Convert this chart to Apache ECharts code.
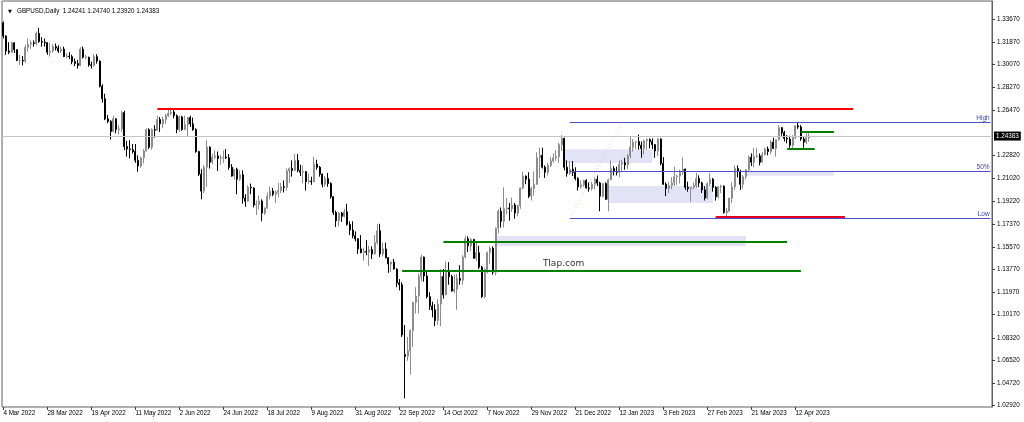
<!DOCTYPE html>
<html>
<head>
<meta charset="utf-8">
<script src="https://cdn.jsdelivr.net/npm/echarts@6/dist/echarts.min.js"></script>
<style>
html,body{margin:0;padding:0;background:#fff;}
#chart{width:1024px;height:422px;}
</style>
</head>
<body>
<div id="chart"></div>
<script>
// ---- tick labels (one every 16 daily bars) ----
const tickLabels = ["4 Mar 2022","28 Mar 2022","19 Apr 2022","11 May 2022","2 Jun 2022","24 Jun 2022","18 Jul 2022","9 Aug 2022","31 Aug 2022","22 Sep 2022","14 Oct 2022","7 Nov 2022","29 Nov 2022","21 Dec 2022","12 Jan 2023","3 Feb 2023","27 Feb 2023","21 Mar 2023","12 Apr 2023"];
const priceTicksA = [1.02920,1.06520,1.10170,1.13770,1.17370,1.21020,1.26470,1.30070,1.33670];
const priceTicksB = [1.04720,1.11970,1.15570,1.19220,1.22820,1.31870];
const priceTicksC = [1.0832000013,1.2827000013];
const slotCount = 360;

// ---- GBPUSD daily OHLC, 4 Mar 2022 .. 19 Apr 2023 ----
const opens = [
1.3340,1.3235,1.3115,1.3105,1.3180,1.3125,1.3040,1.3040,1.3035,1.3145,1.3170,1.3180,1.3175,1.3255,1.3190,1.3185,
1.3180,1.3105,1.3115,1.3150,1.3140,1.3115,1.3130,1.3070,1.3075,1.3070,1.3030,1.3015,1.3000,1.3130,1.3065,1.3065,
1.3005,1.3000,1.3070,1.3035,1.2835,1.2735,1.2575,1.2555,1.2475,1.2575,1.2490,1.2495,1.2625,1.2355,1.2335,1.2330,
1.2315,1.2245,1.2200,1.2265,1.2320,1.2490,1.2350,1.2490,1.2485,1.2570,1.2535,1.2570,1.2600,1.2620,1.2630,1.2600,
1.2490,1.2590,1.2490,1.2530,1.2585,1.2535,1.2490,1.2315,1.2135,1.2000,1.2190,1.2350,1.2230,1.2270,1.2280,1.2260,
1.2265,1.2270,1.2265,1.2190,1.2120,1.2175,1.2095,1.2130,1.1945,1.1920,1.2030,1.2025,1.1890,1.1895,1.1920,1.1825,
1.1865,1.1960,1.2000,1.1975,1.1990,1.2005,1.2035,1.2030,1.2160,1.2180,1.2165,1.2245,1.2165,1.2150,1.2155,1.2075,
1.2080,1.2075,1.2215,1.2190,1.2135,1.2055,1.2100,1.2060,1.1955,1.1830,1.1765,1.1825,1.1800,1.1835,1.1735,1.1690,
1.1645,1.1620,1.1540,1.1510,1.1520,1.1515,1.1535,1.1500,1.1590,1.1685,1.1500,1.1540,1.1470,1.1420,1.1435,1.1380,
1.1270,1.1255,1.0700,1.0685,1.0730,1.0890,1.1115,1.1165,1.1320,1.1475,1.1325,1.1160,1.1085,1.1055,1.0970,1.1100,
1.1320,1.1175,1.1355,1.1320,1.1205,1.1220,1.1305,1.1290,1.1475,1.1620,1.1565,1.1615,1.1465,1.1510,1.1395,1.1160,
1.1375,1.1510,1.1545,1.1355,1.1705,1.1840,1.1760,1.1860,1.1865,1.1860,1.1890,1.1825,1.1885,1.2025,1.2120,1.2095,
1.1960,1.2020,1.2055,1.2265,1.2285,1.2190,1.2150,1.2205,1.2240,1.2265,1.2275,1.2370,1.2420,1.2190,1.2140,1.2175,
1.2150,1.2100,1.2035,1.2050,1.2085,1.2025,1.2020,1.2055,1.2095,1.2065,1.1960,1.2060,1.1935,1.2090,1.2180,1.2155,
1.2150,1.2215,1.2225,1.2210,1.2280,1.2350,1.2390,1.2395,1.2365,1.2340,1.2400,1.2410,1.2395,1.2370,1.2320,1.2415,
1.2220,1.2055,1.2020,1.2045,1.2065,1.2115,1.2120,1.2150,1.2175,1.2030,1.2020,1.2030,1.2045,1.2100,1.2065,1.2010,
1.1945,1.2060,1.2095,1.2030,1.1955,1.2035,1.2040,1.1830,1.1840,1.1945,1.2035,1.2180,1.2155,1.2055,1.2115,1.2170,
1.2270,1.2230,1.2275,1.2280,1.2230,1.2290,1.2335,1.2315,1.2390,1.2340,1.2410,1.2505,1.2465,1.2420,1.2415,1.2365,
1.2425,1.2520,1.2510,1.2415,1.2390,1.24241
];
const highs = [
1.3350,1.3240,1.3185,1.3190,1.3185,1.3130,1.3085,1.3075,1.3165,1.3215,1.3200,1.3200,1.3270,1.3300,1.3225,1.3215,
1.3185,1.3180,1.3170,1.3175,1.3160,1.3150,1.3150,1.3100,1.3105,1.3085,1.3055,1.3045,1.3145,1.3150,1.3085,1.3070,
1.3030,1.3090,1.3090,1.3040,1.2850,1.2775,1.2605,1.2565,1.2600,1.2580,1.2525,1.2640,1.2640,1.2400,1.2405,1.2375,
1.2375,1.2285,1.2275,1.2335,1.2500,1.2500,1.2500,1.2525,1.2600,1.2590,1.2590,1.2615,1.2665,1.2665,1.2655,1.2610,
1.2600,1.2600,1.2600,1.2590,1.2600,1.2585,1.2500,1.2320,1.2175,1.2205,1.2405,1.2355,1.2295,1.2325,1.2315,1.2290,
1.2325,1.2335,1.2295,1.2215,1.2175,1.2185,1.2165,1.2165,1.1975,1.2045,1.2060,1.2030,1.1925,1.1965,1.1935,1.1870,
1.1990,1.2035,1.2025,1.2005,1.2065,1.2065,1.2085,1.2180,1.2190,1.2245,1.2295,1.2295,1.2210,1.2205,1.2160,1.2140,
1.2115,1.2275,1.2250,1.2200,1.2140,1.2120,1.2145,1.2070,1.1960,1.1845,1.1835,1.1835,1.1860,1.1900,1.1760,1.1760,
1.1680,1.1625,1.1650,1.1550,1.1610,1.1565,1.1560,1.1650,1.1740,1.1740,1.1590,1.1590,1.1475,1.1440,1.1460,1.1385,
1.1300,1.1275,1.0935,1.0840,1.0900,1.1120,1.1235,1.1345,1.1495,1.1480,1.1365,1.1195,1.1120,1.1100,1.1140,1.1380,
1.1380,1.1440,1.1435,1.1335,1.1335,1.1340,1.1410,1.1490,1.1645,1.1640,1.1630,1.1620,1.1595,1.1565,1.1405,1.1385,
1.1520,1.1560,1.1560,1.1710,1.1855,1.1870,1.2030,1.1945,1.1905,1.1950,1.1905,1.1890,1.2030,1.2155,1.2125,1.2150,
1.2035,1.2155,1.2310,1.2345,1.2345,1.2205,1.2225,1.2270,1.2300,1.2325,1.2385,1.2445,1.2425,1.2245,1.2240,1.2240,
1.2190,1.2110,1.2085,1.2090,1.2095,1.2070,1.2075,1.2110,1.2125,1.2075,1.2065,1.2070,1.2100,1.2245,1.2200,1.2195,
1.2245,1.2250,1.2265,1.2295,1.2435,1.2415,1.2400,1.2450,1.2395,1.2410,1.2420,1.2420,1.2420,1.2375,1.2420,1.2420,
1.2270,1.2070,1.2075,1.2110,1.2195,1.2130,1.2170,1.2270,1.2180,1.2075,1.2035,1.2070,1.2145,1.2125,1.2075,1.2040,
1.2070,1.2145,1.2105,1.2040,1.2040,1.2050,1.2045,1.1865,1.1945,1.2070,1.2205,1.2205,1.2170,1.2130,1.2175,1.2285,
1.2300,1.2345,1.2345,1.2300,1.2310,1.2345,1.2355,1.2405,1.2425,1.2410,1.2525,1.2510,1.2480,1.2445,1.2440,1.2445,
1.2525,1.2545,1.2525,1.2430,1.2475,1.24740
];
const lows = [
1.3215,1.3085,1.3090,1.3100,1.3100,1.3035,1.3005,1.3000,1.3020,1.3110,1.3130,1.3150,1.3160,1.3180,1.3150,1.3150,
1.3085,1.3070,1.3100,1.3120,1.3100,1.3100,1.3070,1.3055,1.3050,1.3010,1.2995,1.2975,1.2995,1.3055,1.3050,1.2990,
1.2975,1.2990,1.3015,1.2825,1.2705,1.2565,1.2540,1.2410,1.2470,1.2460,1.2450,1.2470,1.2325,1.2275,1.2260,1.2300,
1.2225,1.2155,1.2185,1.2220,1.2315,1.2335,1.2330,1.2425,1.2485,1.2470,1.2500,1.2535,1.2590,1.2605,1.2580,1.2460,
1.2470,1.2480,1.2485,1.2430,1.2510,1.2480,1.2305,1.2120,1.1935,1.1985,1.2035,1.2180,1.2215,1.2255,1.2160,1.2210,
1.2225,1.2255,1.2170,1.2115,1.2090,1.1975,1.2080,1.1900,1.1875,1.1915,1.1975,1.1870,1.1810,1.1855,1.1760,1.1810,
1.1860,1.1935,1.1960,1.1905,1.1950,1.1985,1.1990,1.2005,1.2065,1.2115,1.2160,1.2150,1.2120,1.2065,1.2005,1.2055,
1.2050,1.2070,1.2170,1.2115,1.2030,1.2035,1.2035,1.1940,1.1810,1.1715,1.1720,1.1755,1.1790,1.1725,1.1650,1.1625,
1.1600,1.1500,1.1505,1.1445,1.1490,1.1405,1.1460,1.1495,1.1575,1.1475,1.1480,1.1465,1.1350,1.1355,1.1375,1.1235,
1.1210,1.0840,1.0350,1.0650,1.0540,1.0760,1.1025,1.1025,1.1280,1.1280,1.1145,1.1055,1.0995,1.0925,1.0935,1.0925,
1.1145,1.1170,1.1255,1.1200,1.1190,1.1055,1.1255,1.1255,1.1465,1.1515,1.1525,1.1465,1.1445,1.1380,1.1150,1.1145,
1.1345,1.1420,1.1335,1.1330,1.1665,1.1710,1.1710,1.1815,1.1765,1.1835,1.1780,1.1800,1.1860,1.2015,1.2055,1.1945,
1.1925,1.1965,1.2050,1.2105,1.2180,1.2105,1.2125,1.2190,1.2225,1.2240,1.2225,1.2320,1.2165,1.2115,1.2130,1.2120,
1.2085,1.2005,1.2020,1.2035,1.2020,1.1995,1.2005,1.2015,1.2040,1.1840,1.1950,1.1930,1.1840,1.2090,1.2125,1.2125,
1.2110,1.2150,1.2170,1.2175,1.2260,1.2315,1.2335,1.2330,1.2265,1.2290,1.2330,1.2340,1.2335,1.2265,1.2280,1.2205,
1.2050,1.1960,1.1985,1.2015,1.2040,1.2050,1.2060,1.2130,1.2010,1.1995,1.1915,1.2015,1.2025,1.2035,1.1985,1.1925,
1.1935,1.2040,1.1995,1.1925,1.1940,1.1985,1.1820,1.1800,1.1835,1.1905,1.2010,1.2110,1.2010,1.2020,1.2095,1.2155,
1.2200,1.2190,1.2265,1.2205,1.2230,1.2285,1.2285,1.2295,1.2335,1.2275,1.2400,1.2440,1.2395,1.2380,1.2345,1.2345,
1.2415,1.2495,1.2400,1.2345,1.2375,1.23920
];
const closes = [
1.3235,1.3115,1.3105,1.3180,1.3125,1.3040,1.3040,1.3035,1.3145,1.3170,1.3180,1.3175,1.3255,1.3190,1.3185,1.3180,
1.3105,1.3115,1.3150,1.3140,1.3115,1.3130,1.3070,1.3075,1.3070,1.3030,1.3015,1.3000,1.3130,1.3065,1.3070,1.3005,
1.3000,1.3070,1.3035,1.2835,1.2735,1.2575,1.2555,1.2475,1.2575,1.2490,1.2495,1.2625,1.2355,1.2335,1.2330,1.2315,
1.2245,1.2200,1.2265,1.2320,1.2490,1.2350,1.2490,1.2485,1.2570,1.2535,1.2570,1.2600,1.2620,1.2630,1.2600,1.2490,
1.2590,1.2490,1.2530,1.2585,1.2535,1.2490,1.2315,1.2135,1.2000,1.2190,1.2350,1.2230,1.2270,1.2280,1.2260,1.2265,
1.2270,1.2265,1.2190,1.2120,1.2175,1.2095,1.2130,1.1945,1.1920,1.2030,1.2025,1.1890,1.1895,1.1920,1.1825,1.1865,
1.1960,1.2000,1.1975,1.1990,1.2005,1.2035,1.2030,1.2160,1.2180,1.2165,1.2245,1.2165,1.2150,1.2155,1.2075,1.2080,
1.2075,1.2215,1.2190,1.2135,1.2055,1.2100,1.2060,1.1955,1.1830,1.1765,1.1825,1.1800,1.1835,1.1735,1.1690,1.1645,
1.1620,1.1540,1.1510,1.1520,1.1515,1.1535,1.1500,1.1590,1.1685,1.1500,1.1540,1.1470,1.1420,1.1435,1.1380,1.1270,
1.1255,1.0855,1.0685,1.0730,1.0890,1.1115,1.1165,1.1320,1.1475,1.1325,1.1160,1.1085,1.1055,1.0970,1.1100,1.1320,
1.1175,1.1355,1.1320,1.1205,1.1220,1.1305,1.1290,1.1475,1.1620,1.1565,1.1615,1.1465,1.1510,1.1395,1.1160,1.1375,
1.1510,1.1545,1.1355,1.1705,1.1840,1.1760,1.1860,1.1865,1.1860,1.1890,1.1825,1.1885,1.2025,1.2120,1.2095,1.1960,
1.2020,1.2055,1.2265,1.2285,1.2190,1.2150,1.2205,1.2240,1.2265,1.2275,1.2370,1.2420,1.2190,1.2140,1.2175,1.2150,
1.2100,1.2035,1.2050,1.2085,1.2025,1.2020,1.2055,1.2095,1.2065,1.1960,1.2060,1.1935,1.2090,1.2180,1.2155,1.2150,
1.2215,1.2225,1.2210,1.2280,1.2350,1.2390,1.2395,1.2365,1.2340,1.2400,1.2410,1.2395,1.2370,1.2320,1.2415,1.2220,
1.2055,1.2020,1.2045,1.2065,1.2115,1.2120,1.2150,1.2175,1.2030,1.2020,1.2030,1.2045,1.2100,1.2065,1.2010,1.1945,
1.2060,1.2095,1.2030,1.1955,1.2035,1.2040,1.1830,1.1840,1.1945,1.2035,1.2180,1.2155,1.2055,1.2115,1.2170,1.2270,
1.2230,1.2275,1.2280,1.2230,1.2290,1.2335,1.2315,1.2390,1.2340,1.2410,1.2505,1.2465,1.2420,1.2415,1.2365,1.2425,
1.2520,1.2510,1.2415,1.2390,1.2425,1.24383
];

// ---- drawn objects (price levels, bar index ranges) ----
const resistanceRed = {from: 56, to: 309, price: 1.2659};
const lowRed = {from: 259, to: 306, price: 1.1797};
const fibLevels = [{name: 'High', price: 1.2546}, {name: '50%', price: 1.2156}, {name: 'Low', price: 1.1782}];
const fibFrom = 206, fibTo = 359;
const fibDiagonal = [[206, 1.1782], [225, 1.2546]];
const greenLevels = [
  {from: 160, to: 285, price: 1.1597},
  {from: 145, to: 290, price: 1.1370},
  {from: 290, to: 302, price: 1.2476},
  {from: 285, to: 295, price: 1.2340}
];
const zones = [
  {from: 204, to: 236, top: 1.2334, bottom: 1.2223},
  {from: 220, to: 258, top: 1.2040, bottom: 1.1905},
  {from: 270, to: 302, top: 1.2160, bottom: 1.2122},
  {from: 179, to: 270, top: 1.1643, bottom: 1.1564}
];
const bidPrice = 1.24383;
const watermark = {idx: 196, price: 1.1420, text: 'Tlap.com'};

const categories = Array.from({length: slotCount}, (_, i) => String(i));
const candles = opens.map((o, i) => [o, closes[i], lows[i], highs[i]]);

const FONT = 'Liberation Sans';
const Y_MIN = 1.0282, Y_MAX = 1.3513;
const chart = echarts.init(document.getElementById('chart'), null, {renderer: 'canvas'});

const markLineData = [];
markLineData.push([{coord: [resistanceRed.from, resistanceRed.price], lineStyle: {color: '#ff0000', width: 2, type: 'solid'}},
                   {coord: [resistanceRed.to, resistanceRed.price]}]);
fibLevels.forEach(f => {
  markLineData.push([{coord: [fibFrom, f.price], lineStyle: {color: '#5050c0', width: 1, type: 'solid'},
                      label: {show: true, position: 'insideEndTop', formatter: f.name, color: '#3c3cb0',
                              fontSize: 6.5, fontFamily: FONT, distance: [1, 1]}},
                     {coord: [fibTo, f.price]}]);
});
markLineData.push([{coord: [lowRed.from, lowRed.price], lineStyle: {color: '#e00020', width: 2, type: 'solid'}},
                   {coord: [lowRed.to, lowRed.price]}]);
greenLevels.forEach(g => {
  markLineData.push([{coord: [g.from, g.price], lineStyle: {color: '#008000', width: 2, type: 'solid'}},
                     {coord: [g.to, g.price]}]);
});
markLineData.push([{coord: fibDiagonal[0], lineStyle: {color: '#ffb4b4', width: 1, type: [1, 3]}},
                   {coord: fibDiagonal[1]}]);

function priceAxis(ticks, showLine) {
  return {
    type: 'value',
    position: 'right',
    min: Y_MIN,
    max: Y_MAX,
    axisLine: {show: showLine, lineStyle: {color: '#606060'}},
    axisTick: {show: true, length: 3, customValues: ticks, lineStyle: {color: '#404040'}},
    axisLabel: {show: true, customValues: ticks, formatter: (v) => v.toFixed(4) + '0', hideOverlap: false,
                showMinLabel: true, showMaxLabel: true,
                margin: 5, fontSize: 6.3, color: '#000', fontFamily: FONT},
    splitLine: {show: false}
  };
}

const option = {
  animation: false,
  backgroundColor: '#ffffff',
  title: [
    {text: '▼', left: 3, top: 4, textStyle: {fontSize: 5, color: '#000', fontWeight: 'normal', fontFamily: 'DejaVu Sans'}},
    {text: 'GBPUSD,Daily  1.24241 1.24740 1.23920 1.24383', left: 12, top: 3,
     textStyle: {fontSize: 6.3, color: '#000', fontWeight: 'normal', fontFamily: FONT}}
  ],
  grid: {left: 2, right: 32, top: 1, bottom: 15, show: true, borderColor: '#606060', borderWidth: 1, backgroundColor: 'transparent'},
  xAxis: {
    type: 'category',
    data: categories,
    boundaryGap: true,
    axisLine: {show: false},
    axisTick: {show: true, alignWithLabel: true, length: 3, lineStyle: {color: '#404040'},
               interval: (i) => i % 16 === 0 && i / 16 < tickLabels.length},
    axisLabel: {show: true, interval: (i) => i % 16 === 0 && i / 16 < tickLabels.length,
                formatter: (v, i) => tickLabels[i / 16] || '',
                align: 'left', margin: 3, fontSize: 6.3, color: '#000', fontFamily: FONT},
    splitLine: {show: false}
  },
  yAxis: [priceAxis(priceTicksA, true), priceAxis(priceTicksB, false), priceAxis(priceTicksC, false)],
  series: [
    {
      name: 'zones', type: 'line', data: [], z: 1, silent: true,
      markArea: {
        silent: true,
        itemStyle: {color: '#e3e3f7'},
        data: zones.map(z => [{coord: [z.from, z.top]}, {coord: [z.to, z.bottom]}])
      }
    },
    {
      name: 'bid', type: 'line', data: [], z: 2, silent: true,
      markLine: {
        silent: true, symbol: ['none', 'none'], precision: 5,
        lineStyle: {color: '#c4c4c4', width: 1, type: 'solid'},
        label: {show: true, position: 'end', formatter: bidPrice.toFixed(5), color: '#fff', backgroundColor: '#000',
                padding: [2, 2, 1, 2], fontSize: 6.3, fontFamily: FONT, distance: 2},
        data: [{yAxis: bidPrice}]
      }
    },
    {
      name: 'GBPUSD', type: 'candlestick', data: candles, z: 3,
      barWidth: 1.6,
      itemStyle: {color: '#a8a8a8', color0: '#000000', borderColor: '#8c8c8c', borderColor0: '#000000', borderWidth: 1}
    },
    {
      name: 'objects', type: 'line', data: [], z: 5, silent: true,
      markLine: {
        silent: true, symbol: ['none', 'none'], precision: 5,
        lineStyle: {type: 'solid'},
        label: {show: false},
        data: markLineData
      },
      markPoint: {
        silent: true,
        data: [{coord: [watermark.idx, watermark.price], symbol: 'circle', symbolSize: 1,
                itemStyle: {color: 'rgba(0,0,0,0)'},
                label: {show: true, position: 'right', distance: 0, formatter: watermark.text,
                        fontSize: 9, color: '#333', fontFamily: 'DejaVu Sans'}}]
      }
    }
  ]
};
chart.setOption(option);
</script>
</body>
</html>
